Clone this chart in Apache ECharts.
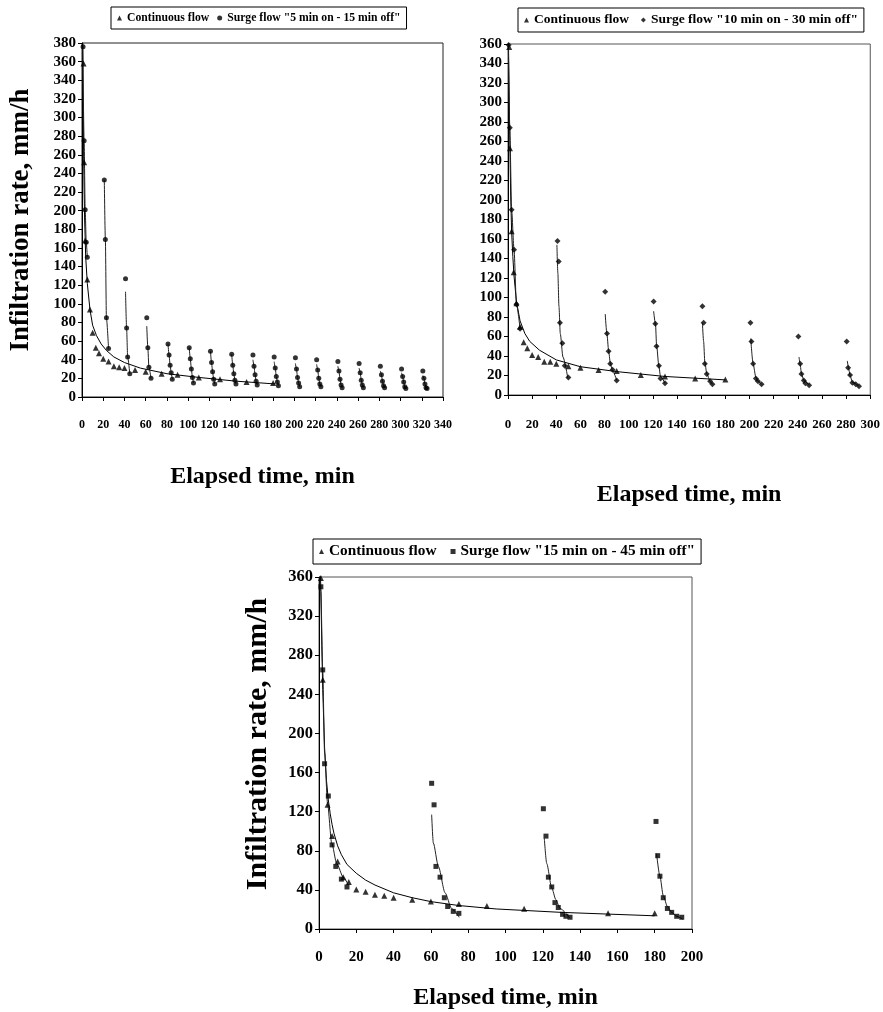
<!DOCTYPE html>
<html>
<head>
<meta charset="utf-8">
<script src="https://cdn.jsdelivr.net/npm/echarts@6/dist/echarts.min.js"></script>
<style>
html,body{margin:0;padding:0;background:#fff}
#c{width:883px;height:1012px}
</style>
</head>
<body>
<div id="c"></div>
<script>
// ---------- Panel A: 5 min on - 15 min off ----------
const contA = [[1.5,358],[2,252],[3,168],[5,126],[7.5,94],[10,69],[13,53],[16,47],[20,41],[25,38],[30,33],[35,32],[40,31],[50,29],[60,27],[75,25],[90,24],[110,21],[130,19],[155,16],[180,15]];
const contFitA = [[0.7,380],[1,330],[1.5,265],[2,222],[2.5,190],[3.5,150],[5,122],[7.5,94],[10,77],[13.6,66],[18,57],[23,50],[30,43],[40,37],[55,31],[80,25],[110,21],[145,17],[182,14]];
const surgeA = [
  [1,376],[2,275],[3,201],[4,166],[5,150],
  [21,233],[22,169],[23,85],[25,52],
  [41,127],[42,74],[43,43],[45,25],
  [61,85],[62,53],[63,32],[65,20],
  [81,57],[82,45],[83,34],[84,26],[85,19],
  [101,53],[102,41],[103,30],[104,21],[105,15],
  [121,49],[122,37],[123,27],[124,19],[125,14],
  [141,46],[142,34],[143,25],[144,18],[145,14],
  [161,45],[162,33],[163,24],[164,17],[165,13],
  [181,43],[182,31],[183,22],[184,16],[185,12],
  [201,42],[202,30],[203,21],[204,15],[205,11],
  [221,40],[222,29],[223,20],[224,14],[225,11],
  [241,38],[242,28],[243,19],[244,13],[245,10],
  [261,36],[262,26],[263,18],[264,13],[265,10],
  [281,33],[282,24],[283,17],[284,12],[285,10],
  [301,30],[302,22],[303,16],[304,11],[305,9],
  [321,28],[322,20],[323,14],[324,10],[325,9]
];
const surgeFitsA = [
  [[0.7,378],[2,275],[3,201],[4,166],[5,150]],
  [[21,233],[22,169],[23,85],[25,52]],
  [[41,113],[42,74],[43,43],[45,25]],
  [[61,76],[62,53],[63,32],[65,20]],
  [[81,57],[82,45],[83,34],[84,26],[85,19]],
  [[101,53],[102,41],[103,30],[104,21],[105,15]],
  [[121,49],[122,37],[123,27],[124,19],[125,14]],
  [[141,46],[142,34],[143,25],[144,18],[145,14]],
  [[161,40],[162,33],[163,24],[164,17],[165,13]],
  [[181,38],[182,31],[183,22],[184,16],[185,12]],
  [[201,36],[202,30],[203,21],[204,15],[205,11]],
  [[221,35],[222,29],[223,20],[224,14],[225,11]],
  [[241,33],[242,28],[243,19],[244,13],[245,10]],
  [[261,31],[262,26],[263,18],[264,13],[265,10]],
  [[281,28],[282,24],[283,17],[284,12],[285,10]],
  [[301,26],[302,22],[303,16],[304,11],[305,9]],
  [[321,23],[322,20],[323,14],[324,10],[325,9]]
];
const surgeNameA = 'Surge flow "5 min on - 15 min off"';

// ---------- Panel B: 10 min on - 30 min off ----------
const contB = [[1,357],[1.6,253],[3,168],[4.7,126],[7,94],[10,70],[13,54],[16,48],[20,41],[25,39],[30,34],[35,34],[40,32],[50,29.5],[60,28],[75,25.7],[90,24.5],[110,20.5],[130,19],[155,17],[180,16]];
const contFitB = [[0.4,360],[1,300],[1.6,253],[2.2,205],[3,168],[4,142],[5,122],[7,96],[10,76],[14,63],[18,55],[26,46],[40,36],[60,29],[90,24],[130,19],[180,15.5]];
const surgeB = [
  [0.5,359],[1.5,274],[3,190],[5,149],[7,93],[10,68],
  [41,158],[42,137],[43,74],[45,53],[47,30],[50,18],
  [80.5,106],[82,63],[83.3,45],[84.7,32],[86.6,26],[90,15],
  [120.6,96],[122,73],[123,50],[125,30],[126.3,17],[130,12],
  [161,91],[162,74],[163,32],[164.6,21.5],[167.4,14],[169.3,11],
  [200.8,74],[201.6,55],[203,32],[205.3,17],[207,14],[210,11],
  [240.5,60],[242,32],[243,21.5],[245,15],[246.3,12],[249.4,10],
  [280.5,55],[281.7,28],[283.3,20.5],[285.2,12.6],[288,11],[290.7,9]
];
const surgeFitsB = [
  [[0.3,360],[1.5,274],[3,190],[5,149],[7,93],[10,68]],
  [[40.5,154],[41.3,125],[42.2,91],[43.3,63],[45.5,39],[49.6,17]],
  [[80.5,83],[81.9,63],[83.3,46],[84.7,33],[86.6,25],[90,15]],
  [[120.6,86],[122.2,72],[123,52],[124.9,30],[126.3,19],[130,12]],
  [[161,74],[162,55],[163,34],[164.6,22],[167.4,14],[169.3,11]],
  [[201,58],[203,32],[205.3,18],[207,14],[210,11]],
  [[241,39],[242,31],[243,22],[245,15],[249.4,10]],
  [[281,35],[282,28],[283.3,20],[285.2,13],[290.7,9]]
];
const surgeNameB = 'Surge flow "10 min on - 30 min off"';

// ---------- Panel C: 15 min on - 45 min off ----------
const contC = [[1,359],[2,255],[4.6,127],[7,95],[10,69],[13,53],[16,48],[20,40.5],[25,38],[30,35],[35,34],[40,32],[50,30],[60,28],[75,25.6],[90,23.5],[110,20.7],[155,16],[180,16]];
const contFitC = [[0.8,362],[1,345],[1.5,290],[2,245],[3,185],[4,152],[5,132],[6,118],[7,107],[8,98],[10,85],[12,76],[15,66],[20,57],[25,50],[30,45],[40,37],[50,32],[60,28],[75,24],[95,20.5],[130,17],[180,13.5]];
const surgeC = [
  [1,350],[2,265],[3,169],[5,136],[7,86],[9,64],[12,51],[15,43],
  [60.4,149],[61.7,127],[62.7,64],[64.9,53],[67.2,32],[69,23],[72,18],[75,16],
  [120.3,123],[121.7,95],[123,53],[124.8,43],[126.5,27],[128.3,22],[130.6,15],[132.4,13],[134.6,12],
  [180.7,110],[181.6,75],[182.8,54],[184.6,32],[186.8,21],[189.1,17],[191.8,13],[194.5,12]
];
const surgeFitsC = [
  [[0.5,360],[1,345],[2,265],[3,180],[4.6,128],[6.8,88],[9.5,67],[13,53],[15.7,45]],
  [[60.4,117],[61.3,88],[64,64],[67.6,37],[71.1,21],[75.2,12]],
  [[120.8,93],[122.1,67],[124.8,42],[127,30],[129.2,21],[134.6,11]],
  [[181,77],[182.8,54],[184.6,34],[186.8,23],[189.1,17],[191.8,13],[195,10]]
];
const surgeNameC = 'Surge flow "15 min on - 45 min off"';

const FONT = '"Liberation Serif", "Times New Roman", serif';
const INK = '#000';

function buildSeries(i, cont, contFit, surge, fits, sym, symSize, surgeName) {
  const out = [];
  // fitted curve of the continuous-flow test
  out.push({
    type: 'line', name: 'contFit' + i, xAxisIndex: i, yAxisIndex: i,
    data: contFit, showSymbol: false, symbol: 'none', smooth: false,
    lineStyle: { color: INK, width: 1 }, z: 2, silent: true
  });
  // one fitted curve per surge
  fits.forEach((seg, k) => out.push({
    type: 'line', name: 'surgeFit' + i + '_' + k, xAxisIndex: i, yAxisIndex: i,
    data: seg, showSymbol: false, symbol: 'none', smooth: 0.25, smoothMonotone: 'x',
    lineStyle: { color: '#222', width: 1 }, z: 2, silent: true
  }));
  out.push({
    type: 'scatter', name: 'Continuous flow', xAxisIndex: i, yAxisIndex: i,
    data: cont, symbol: 'triangle', symbolSize: 6, itemStyle: { color: INK }, z: 3
  });
  out.push({
    type: 'scatter', name: surgeName, xAxisIndex: i, yAxisIndex: i,
    data: surge, symbol: sym, symbolSize: symSize, itemStyle: { color: INK }, z: 4
  });
  return out;
}

function xAxis(i, max, margin, fs, nameGap) {
  return {
    type: 'value', gridIndex: i, min: 0, max: max, interval: 20,
    name: 'Elapsed time, min', nameLocation: 'middle', nameGap: nameGap,
    nameTextStyle: { fontFamily: FONT, fontWeight: 'bold', fontSize: 24, color: INK },
    axisLine: { show: true, lineStyle: { color: INK, width: 1 } },
    axisTick: { show: true, length: 4, lineStyle: { color: INK } },
    axisLabel: { margin: margin, fontFamily: FONT, fontWeight: 'bold', fontSize: fs, color: INK },
    splitLine: { show: false }
  };
}

function yAxis(i, max, interval, fs, nameGap, nameSize, namePad) {
  const a = {
    type: 'value', gridIndex: i, min: 0, max: max, interval: interval,
    axisLine: { show: true, lineStyle: { color: INK, width: 1 } },
    axisTick: { show: true, length: 4, lineStyle: { color: INK } },
    axisLabel: { margin: 6, fontFamily: FONT, fontWeight: 'bold', fontSize: fs, color: INK },
    splitLine: { show: false }
  };
  if (nameGap) {
    a.name = 'Infiltration rate, mm/h';
    a.nameLocation = 'middle';
    a.nameGap = nameGap;
    a.nameTextStyle = { fontFamily: FONT, fontWeight: 'bold', fontSize: nameSize, color: INK, padding: [0, 0, 0, namePad] };
  }
  return a;
}

function legend(left, top, surgeName, icon, fs, gap) {
  return {
    left: left, top: top, orient: 'horizontal', selectedMode: false,
    data: [{ name: 'Continuous flow', icon: 'triangle' }, { name: surgeName, icon: icon }],
    itemWidth: 5, itemHeight: 5, itemGap: gap,
    borderColor: INK, borderWidth: 1, padding: [5, 6],
    textStyle: { fontFamily: FONT, fontWeight: 'bold', fontSize: fs, color: INK }
  };
}

const chart = echarts.init(document.getElementById('c'), null, { renderer: 'canvas' });
chart.setOption({
  animation: false,
  backgroundColor: '#fff',
  grid: [
    { left: 82, top: 43, width: 361, height: 354, show: true, borderColor: '#222', borderWidth: 1, backgroundColor: 'transparent' },
    { left: 508, top: 44, width: 365, height: 351, show: true, borderColor: '#555', borderWidth: 1, backgroundColor: 'transparent' },
    { left: 319, top: 577, width: 373, height: 352, show: true, borderColor: '#555', borderWidth: 1, backgroundColor: 'transparent' }
  ],
  xAxis: [xAxis(0, 340, 22, 12, 68), xAxis(1, 300, 23, 13, 88), xAxis(2, 200, 21, 15, 57)],
  yAxis: [yAxis(0, 380, 20, 15, 47, 27, 0), yAxis(1, 360, 20, 15, 0, 0, 0), yAxis(2, 360, 40, 16.5, 46, 30, 18)],
  legend: [
    legend(111, 7, surgeNameA, 'circle', 11.7, 8),
    legend(518, 8, surgeNameB, 'diamond', 13.5, 12),
    legend(313, 539, surgeNameC, 'rect', 15.3, 14)
  ],
  series: [].concat(
    buildSeries(0, contA, contFitA, surgeA, surgeFitsA, 'circle', 5, surgeNameA),
    buildSeries(1, contB, contFitB, surgeB, surgeFitsB, 'diamond', 6, surgeNameB),
    buildSeries(2, contC, contFitC, surgeC, surgeFitsC, 'rect', 5, surgeNameC)
  )
});
</script>
</body>
</html>
